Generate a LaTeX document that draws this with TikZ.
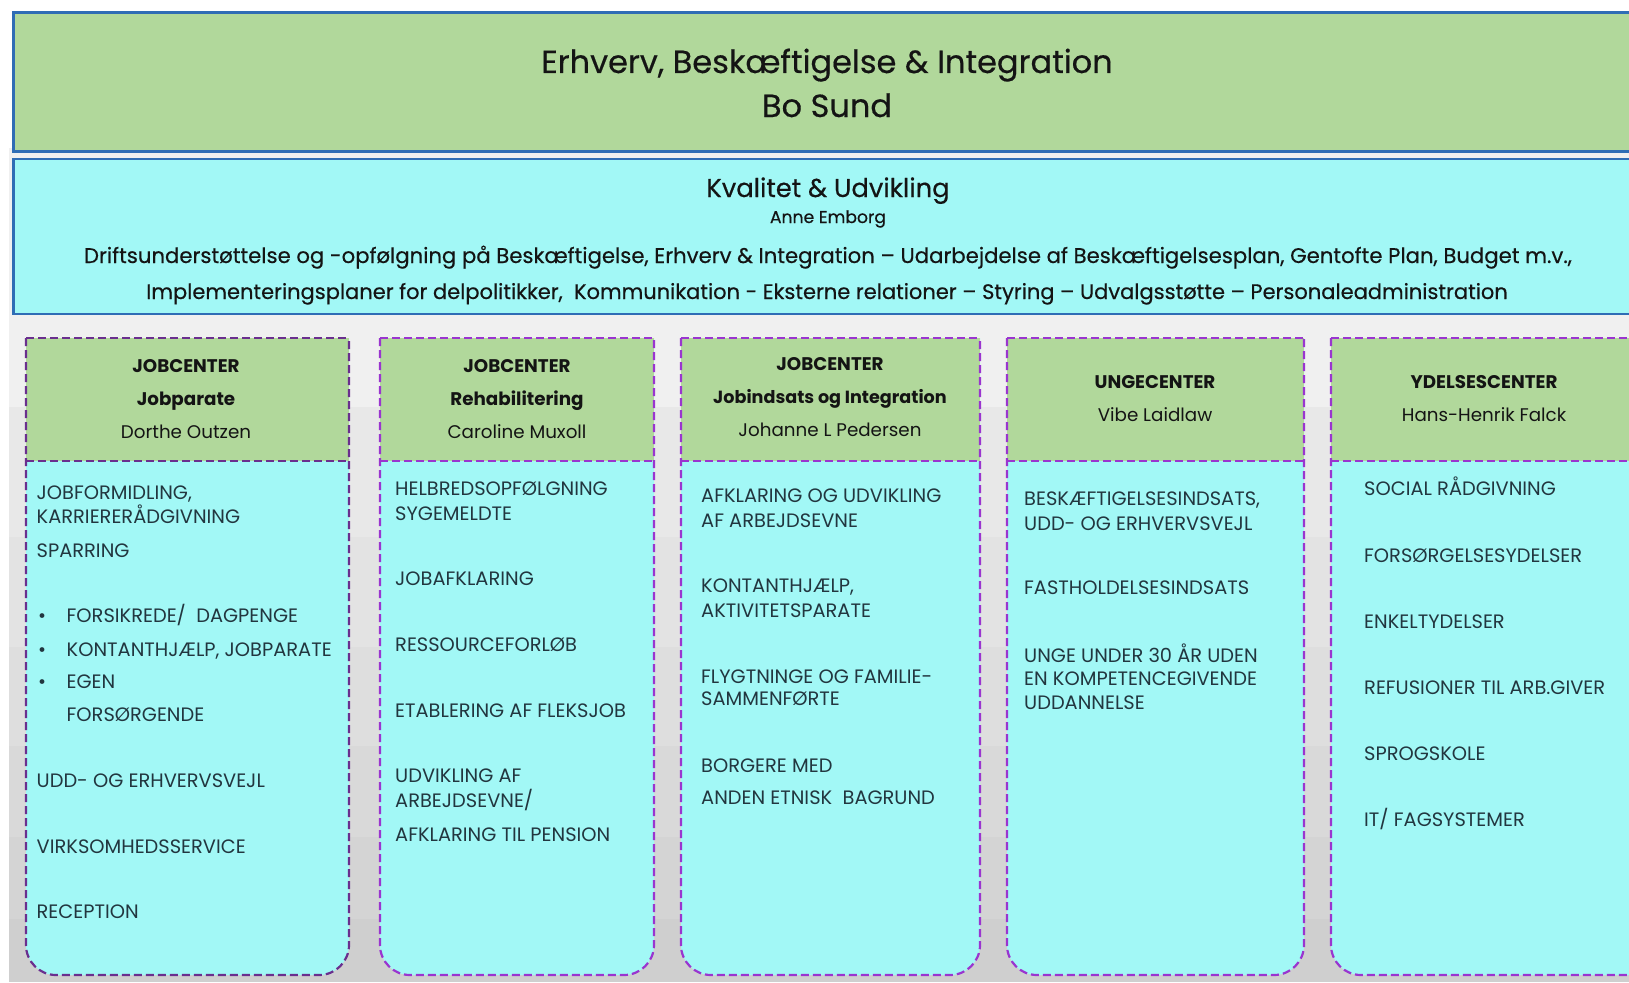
\documentclass[tikz,border=0pt]{standalone}
\usepackage{fontspec}
\setmainfont{Poppins}
\newfontfamily\topfont{Poppins}[FakeBold=0.4]
\definecolor{gfill}{HTML}{B1D89B}
\definecolor{cfill}{HTML}{A2F8F6}
\definecolor{topblue}{HTML}{2F6DB5}
\definecolor{purpA}{HTML}{6A2F8E}
\definecolor{purpB}{HTML}{9A35CF}
\definecolor{bodytext}{HTML}{22363F}
\definecolor{headtext}{HTML}{141414}
\newcommand\bodyfs{\fontsize{19.4}{23}\selectfont}
\newcommand\headfs{\fontsize{18.3}{22}\selectfont}
\newcommand\orgcol[3]{%
  \fill[cfill, rounded corners=30] (#1,338) -- (#1,975) -- (#2,975) -- (#2,338);
  \fill[gfill] (#1,338) rectangle (#2,461);
  \draw[dashline, draw=#3, rounded corners=30] (#1,338) -- (#1,975) -- (#2,975) -- (#2,338);
  \draw[dashline, draw=#3] (#1,338) -- (#2,338);
  \draw[dashline, draw=#3] (#1,461) -- (#2,461);
}
\begin{document}
\begin{tikzpicture}[x=1pt,y=-1pt,
  dashline/.style={line width=2.2pt, dash pattern=on 8pt off 4pt},
  topbox/.style={draw=topblue, line width=2.8pt},
  body/.style={anchor=base west, inner sep=0pt, font=\bodyfs, text=bodytext},
  hb/.style={anchor=base, inner sep=0pt, font=\headfs\bfseries, text=headtext},
  hn/.style={anchor=base, inner sep=0pt, font=\headfs, text=headtext},
  tt/.style={anchor=base, inner sep=0pt, text=headtext}]
\useasboundingbox (0,0) rectangle (1629,982);
\clip (0,0) rectangle (1629,982);
\fill[white] (0,0) rectangle (1629,982);
% stepped grey background
\fill[gray!12] (9,148) rectangle (1629,407);
\fill[gray!18] (9,407) rectangle (1629,537);
\fill[gray!22] (9,537) rectangle (1629,647);
\fill[gray!26] (9,647) rectangle (1629,746);
\fill[gray!30] (9,746) rectangle (1629,837);
\fill[gray!34] (9,837) rectangle (1629,919);
\fill[gray!38] (9,919) rectangle (1629,982);
% top boxes
\draw[topbox, fill=gfill] (13.5,12.5) rectangle (1660,151.5);
\draw[topbox, fill=cfill] (13.5,159) rectangle (1660,314);
\node[tt, font=\topfont\fontsize{32}{40}\selectfont] (title1) at (827,73) {Erhverv, Beskæftigelse \& Integration};
\node[tt, font=\topfont\fontsize{32}{40}\selectfont] (title2) at (827,117) {Bo Sund};
\node[tt, font=\topfont\fontsize{25.8}{30}\selectfont] (kvu) at (828,197) {Kvalitet \& Udvikling};
\node[tt, font=\topfont\fontsize{17.2}{20}\selectfont] (anne) at (828,223) {Anne Emborg};
\node[tt, font=\topfont\fontsize{21.2}{24}\selectfont] (drift1) at (828,263) {Driftsunderstøttelse og -opfølgning på Beskæftigelse, Erhverv \& Integration – Udarbejdelse af Beskæftigelsesplan, Gentofte Plan, Budget m.v.,};
\node[tt, font=\topfont\fontsize{21}{24}\selectfont] (drift2) at (827,299) {Implementeringsplaner for delpolitikker,\ \ Kommunikation - Eksterne relationer – Styring – Udvalgsstøtte – Personaleadministration};
% columns
\orgcol{26}{349}{purpA}
\orgcol{380}{654}{purpB}
\orgcol{681}{980}{purpB}
\orgcol{1007}{1304}{purpB}
\orgcol{1331}{1660}{purpB}
% column 1
\node[hb] (h1a) at (186,372) {JOBCENTER};
\node[hb] (h1b) at (186,405) {Jobparate};
\node[hn] (h1c) at (186,438) {Dorthe Outzen};
\node[body] (c1a) at (36.5,499) {JOBFORMIDLING,};
\node[body] (c1b) at (36.5,523) {KARRIERERÅDGIVNING};
\node[body] (c1c) at (36.5,557) {SPARRING};
\node[body] (c1d) at (38,622) {\textbullet};
\node[body] (c1e) at (66.5,622) {FORSIKREDE/\ \ DAGPENGE};
\node[body] (c1f) at (38,656) {\textbullet};
\node[body] (c1g) at (66.5,656) {KONTANTHJÆLP, JOBPARATE};
\node[body] (c1h) at (38,688) {\textbullet};
\node[body] (c1i) at (66.5,688) {EGEN};
\node[body] (c1j) at (66.5,721) {FORSØRGENDE};
\node[body] (c1k) at (36.5,787) {UDD- OG ERHVERVSVEJL};
\node[body] (c1l) at (36.5,853) {VIRKSOMHEDSSERVICE};
\node[body] (c1m) at (36.5,918) {RECEPTION};
% column 2
\node[hb] (h2a) at (517,372) {JOBCENTER};
\node[hb] (h2b) at (517,405) {Rehabilitering};
\node[hn] (h2c) at (517,438) {Caroline Muxoll};
\node[body] (c2a) at (395,495) {HELBREDSOPFØLGNING};
\node[body] (c2b) at (395,520) {SYGEMELDTE};
\node[body] (c2c) at (395,585) {JOBAFKLARING};
\node[body] (c2d) at (395,651) {RESSOURCEFORLØB};
\node[body] (c2e) at (395,717) {ETABLERING AF FLEKSJOB};
\node[body] (c2f) at (395,782) {UDVIKLING AF};
\node[body] (c2g) at (395,807) {ARBEJDSEVNE/};
\node[body] (c2h) at (395,841) {AFKLARING TIL PENSION};
% column 3
\node[hb] (h3a) at (830,370) {JOBCENTER};
\node[hb, font=\fontsize{17.6}{22}\selectfont\bfseries] (h3b) at (830,403) {Jobindsats og Integration};
\node[hn] (h3c) at (830,436) {Johanne L Pedersen};
\node[body] (c3a) at (701,502) {AFKLARING OG UDVIKLING};
\node[body] (c3b) at (701,527) {AF ARBEJDSEVNE};
\node[body] (c3c) at (701,592) {KONTANTHJÆLP,};
\node[body] (c3d) at (701,617) {AKTIVITETSPARATE};
\node[body] (c3e) at (701,683) {FLYGTNINGE OG FAMILIE-};
\node[body] (c3f) at (701,705) {SAMMENFØRTE};
\node[body] (c3g) at (701,772) {BORGERE MED};
\node[body] (c3h) at (701,804) {ANDEN ETNISK\ \ BAGRUND};
% column 4
\node[hb] (h4a) at (1155,388) {UNGECENTER};
\node[hn] (h4b) at (1155,421) {Vibe Laidlaw};
\node[body] (c4a) at (1024,505) {BESKÆFTIGELSESINDSATS,};
\node[body] (c4b) at (1024,530) {UDD- OG ERHVERVSVEJL};
\node[body] (c4c) at (1024,594) {FASTHOLDELSESINDSATS};
\node[body] (c4d) at (1024,662) {UNGE UNDER 30 ÅR UDEN};
\node[body] (c4e) at (1024,685) {EN KOMPETENCEGIVENDE};
\node[body] (c4f) at (1024,709) {UDDANNELSE};
% column 5
\node[hb] (h5a) at (1484,388) {YDELSESCENTER};
\node[hn] (h5b) at (1484,421) {Hans-Henrik Falck};
\node[body] (c5a) at (1364,495) {SOCIAL RÅDGIVNING};
\node[body] (c5b) at (1364,562) {FORSØRGELSESYDELSER};
\node[body] (c5c) at (1364,628) {ENKELTYDELSER};
\node[body] (c5d) at (1364,694) {REFUSIONER TIL ARB.GIVER};
\node[body] (c5e) at (1364,760) {SPROGSKOLE};
\node[body] (c5f) at (1364,826) {IT/ FAGSYSTEMER};
\end{tikzpicture}
\end{document}
